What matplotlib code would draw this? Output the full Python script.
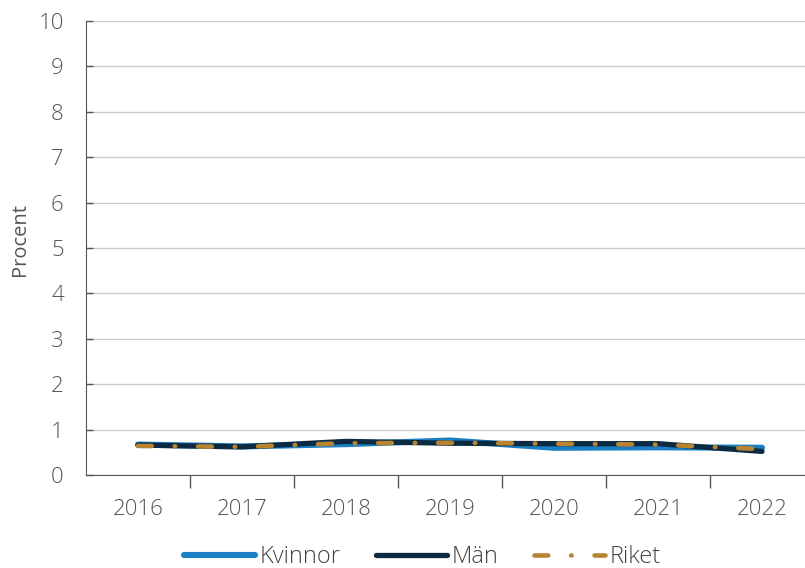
import matplotlib
matplotlib.use("Agg")
import matplotlib.pyplot as plt
import numpy as np

years = ["2016", "2017", "2018", "2019", "2020", "2021", "2022"]
kvinnor = [0.67, 0.63, 0.68, 0.76, 0.60, 0.61, 0.60]
man = [0.66, 0.62, 0.74, 0.70, 0.69, 0.69, 0.52]
riket = [0.64, 0.62, 0.70, 0.71, 0.69, 0.67, 0.57]
yticks = list(range(0, 11))

plt.rcParams['font.family'] = ['Open Sans', 'DejaVu Sans']
plt.rcParams['font.weight'] = 'light'

fig = plt.figure(figsize=(8.05, 5.68), dpi=100)
ax = fig.add_axes([86/805, 93/568, (805-86)/805, 454/568])

x = np.arange(len(years))
ax.plot(x, kvinnor, color="#1b7fc4", lw=4.4, solid_capstyle="round", solid_joinstyle="round", label="Kvinnor", zorder=3)
ax.plot(x, man, color="#0c2a42", lw=3.8, solid_capstyle="round", solid_joinstyle="round", label="Män", zorder=4)
ax.plot(x, riket, color="#b8842f", lw=3.3, dashes=(3, 5, 0.1, 5), dash_capstyle="round", label="Riket", zorder=5)

ax.set_xlim(-0.5, 6.5 - 9/104)
ax.set_ylim(0, 10)
ax.set_yticks(yticks)
ax.set_xticks(x)
ax.set_xticklabels(years)
ax.set_xticks(np.arange(0.5, 6.0, 1.0), minor=True)
ax.tick_params(axis="x", which="major", length=0, pad=17, labelsize=16, labelcolor="#555555")
ax.tick_params(axis="x", which="minor", length=9, width=1, color="#555555", direction="out")
ax.tick_params(axis="y", length=5, width=1, color="#555555", direction="in", labelsize=16, labelcolor="#555555", pad=16)
ax.grid(axis="y", color="#cccccc", lw=1)
ax.set_axisbelow(True)
for s in ["top", "right"]:
    ax.spines[s].set_visible(False)
for s in ["left", "bottom"]:
    ax.spines[s].set_color("#555555")
ax.set_ylabel("Procent", fontsize=14.5, color="#555555")
ax.yaxis.set_label_coords(-0.078, 0.518)

leg = fig.legend(loc="center", bbox_to_anchor=(0.525, 1 - 557/568), ncol=3, frameon=False,
                 fontsize=17, handlelength=3.0, handletextpad=0.2, columnspacing=1.5)
for t in leg.get_texts():
    t.set_color("#444444")

fig.savefig("out.png", dpi=100)
